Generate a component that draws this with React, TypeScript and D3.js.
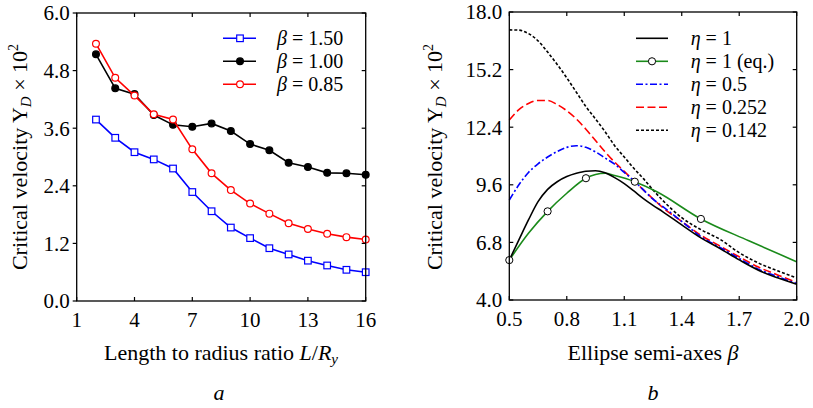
import React, { useEffect, useRef } from "react";
import * as d3 from "d3";

// panel a: critical velocity vs L/Ry
const ratioX = [2, 3, 4, 5, 6, 7, 8, 9, 10, 11, 12, 13, 14, 15, 16];
const beta150 = [3.78, 3.4, 3.1, 2.95, 2.76, 2.27, 1.87, 1.53, 1.31, 1.1, 0.97, 0.84, 0.74, 0.65, 0.6];
const beta100 = [5.14, 4.43, 4.31, 3.875, 3.67, 3.63, 3.7, 3.54, 3.27, 3.14, 2.88, 2.79, 2.67, 2.66, 2.63];
const beta085 = [5.36, 4.65, 4.28, 3.89, 3.78, 3.16, 2.66, 2.31, 2.03, 1.82, 1.62, 1.5, 1.4, 1.33, 1.28];
const ticksA_x = [1, 4, 7, 10, 13, 16];
const ticksA_y = [0, 1.2, 2.4, 3.6, 4.8, 6.0];

// panel b: critical velocity vs beta
const betaX = [0.5, 0.55, 0.6, 0.65, 0.7, 0.75, 0.8, 0.85, 0.9, 0.95, 1.0, 1.05, 1.1, 1.15, 1.2, 1.25, 1.3, 1.4, 1.5, 1.6, 1.7, 1.8, 1.9, 2.0];
const eta1 = [5.94, 6.92, 7.89, 8.78, 9.38, 9.75, 10.0, 10.16, 10.26, 10.28, 10.18, 9.95, 9.66, 9.3, 8.93, 8.6, 8.3, 7.65, 7.02, 6.5, 5.95, 5.45, 5.08, 4.76];
const eta05 = [8.86, 9.6, 10.2, 10.62, 10.95, 11.22, 11.42, 11.5, 11.42, 11.2, 10.9, 10.6, 10.2, 9.8, 9.35, 8.9, 8.55, 7.82, 7.08, 6.55, 6.02, 5.5, 5.14, 4.8];
const eta0252 = [12.75, 13.25, 13.55, 13.7, 13.7, 13.5, 13.2, 12.8, 12.3, 11.75, 11.2, 10.7, 10.25, 9.8, 9.35, 8.92, 8.5, 7.82, 7.15, 6.62, 6.1, 5.6, 5.22, 4.86];
const eta0142 = [17.13, 17.12, 16.95, 16.6, 16.05, 15.45, 14.8, 14.1, 13.4, 12.8, 12.18, 11.5, 10.95, 10.4, 9.9, 9.35, 8.85, 8.0, 7.42, 6.95, 6.3, 5.8, 5.42, 5.08];
const eqX = [0.5, 0.6, 0.7, 0.8, 0.9, 0.95, 1.0, 1.05, 1.155, 1.27, 1.5, 1.75, 2.0];
const eqY = [5.94, 7.24, 8.31, 9.19, 9.92, 10.1, 10.16, 10.05, 9.75, 9.26, 7.94, 6.88, 5.86];
const eqMarkX = [0.5, 0.7, 0.9, 1.155, 1.5];
const eqMarkY = [5.94, 8.31, 9.92, 9.75, 7.94];
const ticksB_x = [0.5, 0.8, 1.1, 1.4, 1.7, 2.0];
const ticksB_y = [4.0, 6.8, 9.6, 12.4, 15.2, 18.0];

const FONT = '"Liberation Serif", "DejaVu Serif", "Times New Roman", Times, serif';
const BLUE = "#0000ff";
const RED = "#ff0000";
const GREEN = "#1a8a1a";

function drawFrame(g, x, y, xt, yt, yOut, fmtX) {
	const [x0, x1] = x.range();
	const [y0, y1] = y.range();
	g.append("rect")
		.attr("x", x0).attr("y", y1)
		.attr("width", x1 - x0).attr("height", y0 - y1)
		.attr("fill", "none").attr("stroke", "black").attr("stroke-width", 1.3);
	const tl = 4;
	xt.forEach((t) => {
		g.append("line").attr("x1", x(t)).attr("x2", x(t)).attr("y1", y0).attr("y2", y0 - tl).attr("stroke", "black").attr("stroke-width", 1.2);
		g.append("line").attr("x1", x(t)).attr("x2", x(t)).attr("y1", y1).attr("y2", y1 + tl).attr("stroke", "black").attr("stroke-width", 1.2);
		g.append("text").attr("x", x(t)).attr("y", y0 + 26).attr("font-size", 21).attr("text-anchor", "middle").text(fmtX(t));
	});
	yt.forEach((t) => {
		g.append("line").attr("x1", x0).attr("x2", yOut ? x0 - tl : x0 + tl).attr("y1", y(t)).attr("y2", y(t)).attr("stroke", "black").attr("stroke-width", 1.2);
		g.append("line").attr("x1", x1).attr("x2", x1 - tl).attr("y1", y(t)).attr("y2", y(t)).attr("stroke", "black").attr("stroke-width", 1.2);
		g.append("text").attr("x", x0 - 7).attr("y", y(t)).attr("dy", "0.35em").attr("font-size", 21).attr("text-anchor", "end").text(t.toFixed(1));
	});
}

function yTitle(g, cx, cy) {
	const t = g.append("text").attr("transform", `translate(${cx},${cy}) rotate(-90)`).attr("font-size", 22).attr("text-anchor", "middle");
	t.append("tspan").text("Critical velocity Y");
	t.append("tspan").attr("font-style", "italic").attr("font-size", 15).attr("dy", 4).text("D");
	t.append("tspan").attr("dy", -4).text(" × 10");
	t.append("tspan").attr("font-size", 14).attr("dy", -9).text("2");
}

export default function App() {
	const ref = useRef(null);

	useEffect(() => {
		const svg = d3.select(ref.current);
		svg.selectAll("*").remove();
		const root = svg.append("g").style("font-family", FONT).attr("font-size", 20).attr("fill", "black");

		// ---- panel a
		const xa = d3.scaleLinear().domain([1, 16]).range([76.7, 365.7]);
		const ya = d3.scaleLinear().domain([0, 6]).range([301, 13]);
		const ga = root.append("g");
		const lineA = d3.line().x((d) => xa(d[0])).y((d) => ya(d[1]));
		const seriesA = [
			{ vals: beta150, color: BLUE, mark: "square", label: "1.50" },
			{ vals: beta100, color: "black", mark: "dot", label: "1.00" },
			{ vals: beta085, color: RED, mark: "circle", label: "0.85" },
		];
		const marker = (g, cx, cy, s) => {
			if (s.mark === "square") {
				g.append("rect").attr("x", cx - 3.3).attr("y", cy - 3.3).attr("width", 6.6).attr("height", 6.6)
					.attr("fill", "white").attr("stroke", s.color).attr("stroke-width", 1.2);
			} else {
				g.append("circle").attr("cx", cx).attr("cy", cy).attr("r", 3.4)
					.attr("fill", s.mark === "dot" ? "black" : "white").attr("stroke", s.color).attr("stroke-width", 1.2);
			}
		};
		seriesA.forEach((s, k) => {
			const pts = ratioX.map((v, i) => [v, s.vals[i]]);
			ga.append("path").attr("d", lineA(pts)).attr("fill", "none").attr("stroke", s.color).attr("stroke-width", 1.6);
			pts.forEach((p) => marker(ga, xa(p[0]), ya(p[1]), s));
			const ly = 38.3 + k * 23;
			ga.append("line").attr("x1", 223).attr("x2", 256).attr("y1", ly).attr("y2", ly).attr("stroke", s.color).attr("stroke-width", 1.6);
			marker(ga, 240, ly, s);
			const t = ga.append("text").attr("x", 277).attr("y", ly + 7);
			t.append("tspan").attr("font-style", "italic").text("β");
			t.append("tspan").text(" = " + s.label);
		});
		drawFrame(ga, xa, ya, ticksA_x, ticksA_y, true, (t) => String(t));
		yTitle(ga, 27, 157);
		const tA = ga.append("text").attr("x", 221).attr("y", 360).attr("font-size", 22).attr("text-anchor", "middle");
		tA.append("tspan").text("Length to radius ratio ");
		tA.append("tspan").attr("font-style", "italic").text("L");
		tA.append("tspan").text("/");
		tA.append("tspan").attr("font-style", "italic").text("R");
		tA.append("tspan").attr("font-style", "italic").attr("font-size", 15).attr("dy", 4).text("y");
		ga.append("text").attr("x", 219).attr("y", 400).attr("font-size", 22).attr("text-anchor", "middle").attr("font-style", "italic").text("a");

		// ---- panel b
		const xb = d3.scaleLinear().domain([0.5, 2.0]).range([509.3, 796.7]);
		const yb = d3.scaleLinear().domain([4, 18]).range([300, 12]);
		const gb = root.append("g");
		const lineB = d3.line().x((d) => xb(d[0])).y((d) => yb(d[1])).curve(d3.curveMonotoneX);
		const seriesB = [
			{ xs: betaX, vals: eta1, color: "black", dash: null, label: "1" },
			{ xs: eqX, vals: eqY, color: GREEN, dash: null, label: "1 (eq.)" },
			{ xs: betaX, vals: eta05, color: BLUE, dash: "7 2.5 2 2.5", label: "0.5" },
			{ xs: betaX, vals: eta0252, color: RED, dash: "8 3.5", label: "0.252" },
			{ xs: betaX, vals: eta0142, color: "black", dash: "3 2", label: "0.142" },
		];
		// low curves drawn last so they sit on top
		[4, 3, 2, 1, 0].forEach((k) => {
			const s = seriesB[k];
			const pts = s.xs.map((v, i) => [v, s.vals[i]]);
			gb.append("path").attr("d", lineB(pts)).attr("fill", "none").attr("stroke", s.color)
				.attr("stroke-width", 1.6).attr("stroke-dasharray", s.dash);
		});
		eqMarkX.forEach((v, i) => {
			gb.append("circle").attr("cx", xb(v)).attr("cy", yb(eqMarkY[i])).attr("r", 3.6)
				.attr("fill", "white").attr("stroke", "black").attr("stroke-width", 1);
		});
		seriesB.forEach((s, k) => {
			const ly = 38.3 + k * 23;
			gb.append("line").attr("x1", 636).attr("x2", 668).attr("y1", ly).attr("y2", ly)
				.attr("stroke", s.color).attr("stroke-width", 1.6).attr("stroke-dasharray", s.dash);
			if (k === 1) {
				gb.append("circle").attr("cx", 652).attr("cy", ly).attr("r", 3.6)
					.attr("fill", "white").attr("stroke", "black").attr("stroke-width", 1);
			}
			const t = gb.append("text").attr("x", 690.7).attr("y", ly + 7);
			t.append("tspan").attr("font-style", "italic").text("η");
			t.append("tspan").text(" = " + s.label);
		});
		drawFrame(gb, xb, yb, ticksB_x, ticksB_y, false, (t) => t.toFixed(1));
		yTitle(gb, 442, 157);
		const tB = gb.append("text").attr("x", 653).attr("y", 360).attr("font-size", 22).attr("text-anchor", "middle");
		tB.append("tspan").text("Ellipse semi-axes ");
		tB.append("tspan").attr("font-style", "italic").text("β");
		gb.append("text").attr("x", 653).attr("y", 400).attr("font-size", 22).attr("text-anchor", "middle").attr("font-style", "italic").text("b");
	}, []);

	return (
		<svg
			ref={ref}
			width={813}
			height={408}
			style={{ position: "absolute", left: 0, top: 0, background: "white" }}
		></svg>
	);
}
